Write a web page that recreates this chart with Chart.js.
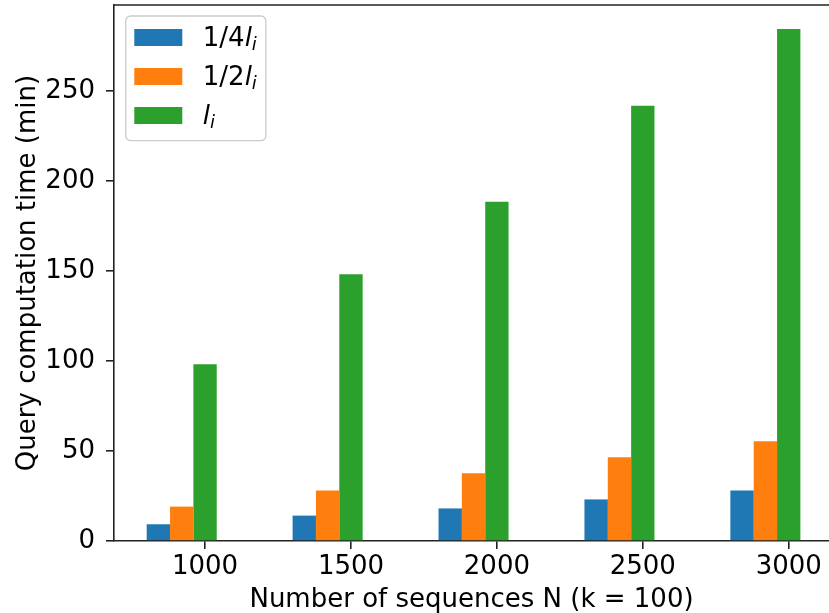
<!DOCTYPE html>
<html>
<head>
<meta charset="utf-8">
<title>Query computation time</title>
<script src="https://cdn.jsdelivr.net/npm/chart.js@4.4.1/dist/chart.umd.min.js"></script>
<style>
    html, body { margin: 0; padding: 0; background: #fff; overflow: hidden; }
    #chartContainer { width: 829px; height: 613px; }
</style>
</head>
<body>
<div id="chartContainer"><canvas id="myChart" width="829" height="613"></canvas></div>
<script>
const sequenceCounts = [1000, 1500, 2000, 2500, 3000];
const quarterLi = [9.3, 14.1, 18.1, 23.1, 28.0];
const halfLi = [19.1, 28.0, 37.6, 46.5, 55.4];
const fullLi = [98.2, 148.2, 188.5, 241.8, 284.4];
// two empty slots after the green bar, so green sits on the tick (bars at x-2w, x-w, x)
const emptySlot = [null, null, null, null, null];
const seriesNames = ['1/4l_i', '1/2l_i', 'l_i'];
const seriesColors = ['#1f77b4', '#ff7f0e', '#2ca02c'];
const yTicks = [0, 50, 100, 150, 200, 250];

const FONT = 'DejaVu Sans';
const FS = 26;

function toPoints(values) {
    return sequenceCounts.map((n, i) => ({ x: n, y: values[i] }));
}

// draws "1/4l_i" the way mathtext does: italic l with a small italic subscript
function drawMathLabel(ctx, label, x, baseline) {
    const m = label.match(/^(.*?)([a-zA-Z])_([a-zA-Z0-9])$/);
    ctx.textBaseline = 'alphabetic';
    ctx.textAlign = 'left';
    if (!m) {
        ctx.font = `${FS}px ${FONT}`;
        ctx.fillText(label, x, baseline);
        return ctx.measureText(label).width;
    }
    let cx = x;
    ctx.font = `${FS}px ${FONT}`;
    ctx.fillText(m[1], cx, baseline);
    cx += ctx.measureText(m[1]).width;
    ctx.font = `italic ${FS}px ${FONT}`;
    ctx.fillText(m[2], cx, baseline);
    cx += ctx.measureText(m[2]).width;
    ctx.font = `italic ${Math.round(FS * 0.7)}px ${FONT}`;
    ctx.fillText(m[3], cx, baseline + 4);
    cx += ctx.measureText(m[3]).width;
    return cx - x;
}

const mathLegend = {
    id: 'mathLegend',
    afterDraw(chart) {
        const ctx = chart.ctx;
        const area = chart.chartArea;
        const boxX = area.left + 11.7;
        const boxY = area.top + 11;
        const handleX = boxX + 8.6;
        const textX = handleX + 48 + 20.5;
        const rowH = 39;

        // measure labels first for the frame width
        ctx.save();
        ctx.globalAlpha = 0;
        let maxW = 0;
        seriesNames.forEach(name => {
            maxW = Math.max(maxW, drawMathLabel(ctx, name, 0, -100));
        });
        ctx.restore();

        const boxW = textX + maxW + 9 - boxX;
        const boxH = rowH * 3 + 7.7;

        ctx.save();
        ctx.beginPath();
        ctx.roundRect(boxX, boxY, boxW, boxH, 5);
        ctx.fillStyle = 'rgba(255,255,255,0.8)';
        ctx.fill();
        ctx.strokeStyle = '#cccccc';
        ctx.lineWidth = 1.3;
        ctx.stroke();

        seriesNames.forEach((name, i) => {
            const cy = boxY + 21.5 + i * rowH;
            ctx.fillStyle = seriesColors[i];
            ctx.fillRect(handleX, cy - 8.5, 48, 17);
            ctx.fillStyle = '#000';
            drawMathLabel(ctx, name, textX, cy + 8.5);
        });
        ctx.restore();
    }
};

// top spine (the right one falls outside the picture)
const frame = {
    id: 'frame',
    afterDraw(chart) {
        const { ctx, chartArea: a } = chart;
        ctx.save();
        ctx.strokeStyle = '#222';
        ctx.lineWidth = 1.6;
        ctx.beginPath();
        ctx.moveTo(a.left, a.top);
        ctx.lineTo(a.right, a.top);
        ctx.stroke();
        ctx.restore();
    }
};

Chart.defaults.font.family = FONT;
Chart.defaults.font.size = FS;
Chart.defaults.color = '#000';

const datasets = [quarterLi, halfLi, fullLi].map((values, i) => ({
    label: seriesNames[i],
    data: toPoints(values),
    backgroundColor: seriesColors[i],
    borderWidth: 0
}));
datasets.push({ label: 'gap1', data: toPoints(emptySlot), backgroundColor: 'rgba(0,0,0,0)' });
datasets.push({ label: 'gap2', data: toPoints(emptySlot), backgroundColor: 'rgba(0,0,0,0)' });

function noPad(s) {
    s.paddingTop = 0;
    s.paddingBottom = 0;
    s.paddingLeft = 0;
    s.paddingRight = 0;
}

new Chart(document.getElementById('myChart'), {
    type: 'bar',
    data: { datasets: datasets },
    options: {
        responsive: false,
        animation: false,
        devicePixelRatio: 1,
        categoryPercentage: 0.8,
        barPercentage: 1.0,
        layout: { padding: { top: 5, right: 0, left: 0, bottom: 0 } },
        plugins: {
            legend: { display: false },
            tooltip: { enabled: false }
        },
        scales: {
            x: {
                type: 'linear',
                min: 688,
                max: 3138,
                offset: false,
                afterBuildTicks: s => { s.ticks = sequenceCounts.map(v => ({ value: v })); },
                afterFit: s => { s.height = 72; noPad(s); },
                grid: { display: true, drawOnChartArea: false, drawTicks: true, tickLength: 8, color: '#222', lineWidth: 1.6, offset: false },
                border: { display: true, color: '#222', width: 1.6 },
                ticks: { padding: 3, maxRotation: 0, autoSkip: false, callback: v => String(v) },
                title: { display: true, text: 'Number of sequences N (k = 100)', padding: { top: 0, bottom: -3 } }
            },
            y: {
                min: 0,
                max: 297.8,
                afterBuildTicks: s => { s.ticks = yTicks.map(v => ({ value: v })); },
                afterFit: s => { s.width = 114; noPad(s); },
                grid: { display: true, drawOnChartArea: false, drawTicks: true, tickLength: 8, color: '#222', lineWidth: 1.6 },
                border: { display: true, color: '#222', width: 1.6 },
                ticks: { padding: 11 },
                title: { display: true, text: 'Query computation time (min)', padding: { top: 13, bottom: 0 } }
            }
        }
    },
    plugins: [mathLegend, frame]
});
</script>
</body>
</html>
